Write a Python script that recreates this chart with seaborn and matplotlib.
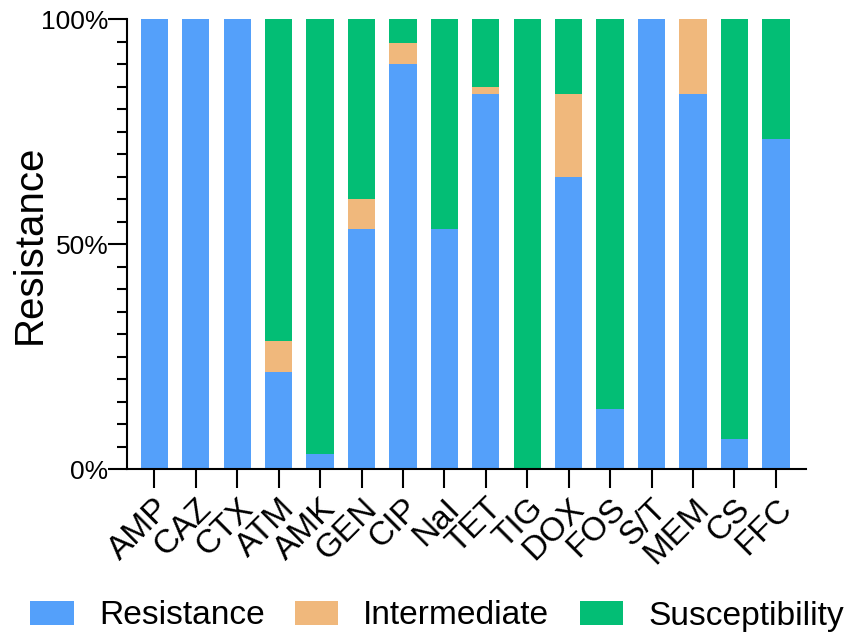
import matplotlib
matplotlib.use("Agg")
import matplotlib.pyplot as plt
from matplotlib.patches import Patch
from matplotlib.ticker import MultipleLocator, FuncFormatter
import seaborn as sns
import pandas as pd
import numpy as np

categories = ["AMP", "CAZ", "CTX", "ATM", "AMK", "GEN", "CIP", "NaI", "TET",
              "TIG", "DOX", "FOS", "S/T", "MEM", "CS", "FFC"]
resistance = [100, 100, 100, 21.5, 3.3, 53.3, 90.0, 53.3, 83.3, 0, 65.0, 13.3, 100, 83.3, 6.7, 73.3]
intermediate = [0, 0, 0, 6.9, 0, 6.7, 4.6, 0, 1.7, 0, 18.3, 0, 0, 16.7, 0, 0]
susceptibility = [0, 0, 0, 71.6, 96.7, 40.0, 5.4, 46.7, 15.0, 100, 16.7, 86.7, 0, 0, 93.3, 26.7]
series_names = ["Resistance", "Intermediate", "Susceptibility"]
colors = ["#54A0FA", "#F0B87C", "#03BE75"]

df = pd.DataFrame({"drug": categories, "R": resistance, "I": intermediate, "S": susceptibility})
df["RI"] = df["R"] + df["I"]
df["RIS"] = df["RI"] + df["S"]

sns.set_style("ticks")
plt.rcParams["font.family"] = ["Liberation Sans", "DejaVu Sans"]
plt.rcParams["text.color"] = "black"
plt.rcParams["axes.labelcolor"] = "black"

fig = plt.figure(figsize=(8.51, 6.43), dpi=100)
ax = fig.add_axes([127 / 851, 1 - 469.3 / 643, (805.7 - 127) / 851, (469.3 - 19) / 643])

sns.barplot(data=df, x="drug", y="RIS", color=colors[2], width=0.66, ax=ax, saturation=1, linewidth=0)
sns.barplot(data=df, x="drug", y="RI", color=colors[1], width=0.66, ax=ax, saturation=1, linewidth=0)
sns.barplot(data=df, x="drug", y="R", color=colors[0], width=0.66, ax=ax, saturation=1, linewidth=0)

ax.set_xlim(-0.66, 15.72)
ax.set_ylim(0, 100)
ax.yaxis.set_major_locator(MultipleLocator(50))
ax.yaxis.set_minor_locator(MultipleLocator(5))
ax.yaxis.set_major_formatter(FuncFormatter(lambda v, p: f"{int(v)}%"))
sns.despine(ax=ax)
for s in ["left", "bottom"]:
    ax.spines[s].set_linewidth(1.5)
    ax.spines[s].set_color("black")

ax.tick_params(axis="y", which="major", length=13.5, width=1.5, labelsize=19, pad=0, colors="black")
ax.tick_params(axis="y", which="minor", length=7, width=1.5, colors="black")
ax.tick_params(axis="x", which="major", length=14, width=1.5, labelsize=24, pad=3, colors="black")
plt.setp(ax.get_xticklabels(), rotation=45, ha="right", rotation_mode="anchor")

ax.set_xlabel("")
ax.set_ylabel("Resistance", fontsize=29, color="black")
ax.yaxis.set_label_coords(-0.115, 0.5)

handles = [Patch(facecolor=c, edgecolor="none", label=n) for c, n in zip(colors, series_names)]
leg = fig.legend(handles=handles, loc="center", bbox_to_anchor=(437 / 851, 1 - 616 / 643), ncol=3,
                 frameon=False, fontsize=24.1, handlelength=1.3, handleheight=0.7,
                 handletextpad=0.75, columnspacing=0.9, borderaxespad=0)
for t in leg.get_texts():
    t.set_color("black")

fig.savefig("out.png", dpi=100)
